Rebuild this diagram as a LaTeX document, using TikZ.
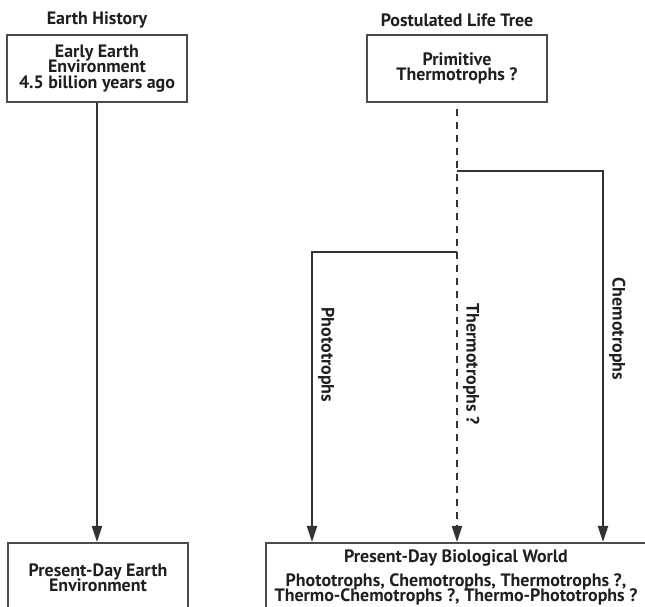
\documentclass[tikz,border=0pt]{standalone}
\usepackage{fontspec}
\setmainfont{PT Sans}
\usetikzlibrary{arrows.meta}
\lineskiplimit=-10pt

\begin{document}
\begin{tikzpicture}[
    txt/.style={font=\bfseries\fontsize{10.2}{8.8}\selectfont, align=center, text=black!88},
    box/.style={txt, draw=black!70, line width=0.9pt, inner sep=0pt},
    link/.style={draw=black!80, line width=1.25pt},
    arr/.style={link, -{Triangle[length=0.32cm, width=0.2cm]}},
    lbl/.style={txt, rotate=-90, anchor=south, inner sep=0.1cm}]
  \useasboundingbox (0, 0) rectangle (12.9, 12.12);
  \node[txt] (hist) at (1.94, 11.72) {Earth History};
  \node[txt] (tree) at (9.14, 11.72) {Postulated Life Tree};
  \node[box, minimum width=3.6cm, minimum height=1.34cm] (early) at (1.94, 10.75) {Early Earth\\Environment\\4.5 billion years ago};
  \node[box, minimum width=3.6cm, minimum height=1.34cm] (primitive) at (9.14, 10.75) {Primitive\\Thermotrophs ?};
  \node[box, anchor=north, minimum width=3.6cm, minimum height=1.4cm] (earthnow) at (1.96, 1.28) {Present-Day Earth\\Environment};
  \node[box, anchor=north, minimum width=7.6cm, minimum height=1.4cm] (bionow) at (9.12, 1.28) {Present-Day Biological World\\[4.5pt]Phototrophs, Chemotrophs, Thermotrophs ?,\\Thermo-Chemotrophs ?, Thermo-Phototrophs ?};
  \coordinate (csplit) at (9.14, 8.70);
  \coordinate (cturn) at (12.06, 8.70);
  \coordinate (psplit) at (9.14, 7.08);
  \coordinate (pturn) at (6.24, 7.08);
  \draw[arr] (early.south) -- (early.south |- earthnow.north);
  \draw[arr, dash pattern=on 0.14cm off 0.12cm, dash phase=0.14cm] (primitive) -- (primitive |- bionow.north) node[lbl, pos=0.595] (thermo) {Thermotrophs ?};
  \draw[arr] (csplit) -- (cturn) -- (cturn |- bionow.north) node[lbl, pos=0.426] (chemo) {Chemotrophs};
  \draw[arr] (psplit) -- (pturn) -- (pturn |- bionow.north) node[lbl, pos=0.355] (photo) {Phototrophs};
\end{tikzpicture}
\end{document}
